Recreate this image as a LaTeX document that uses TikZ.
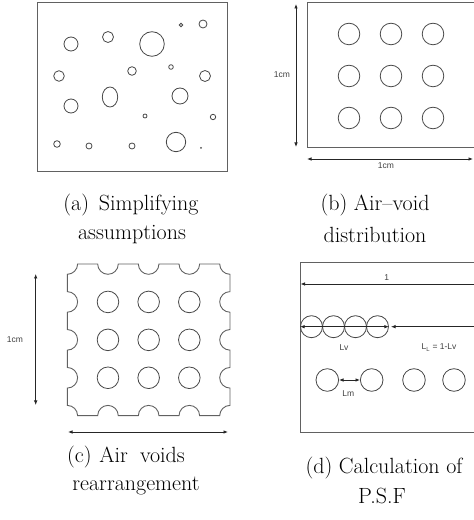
\documentclass[tikz,border=0pt]{standalone}
\usepackage{fontspec}
\newfontfamily\lblfont{Liberation Sans}
\usetikzlibrary{arrows.meta,shapes.geometric}
\begin{document}
\begin{tikzpicture}[x=1pt,y=1pt,
  frame/.style={draw=black!62, line width=1pt},
  void/.style={circle, draw=black!72, line width=0.8pt, inner sep=0pt, minimum size=#1},
  dimtip/.tip={Latex[length=4.5pt,width=3.6pt]},
  dim/.style={draw=black!85, line width=0.8pt, -dimtip},
  dimb/.style={draw=black!85, line width=0.8pt, dimtip-dimtip},
  captxt/.style={font=\fontsize{22}{26}\selectfont, inner sep=0pt, text=black},
  lbl/.style={font=\lblfont\fontsize{8.5}{10}\selectfont, text=black!75, inner sep=0pt}]
\useasboundingbox (0,0) rectangle (474,520);

% ---------------- (a) ----------------
\draw[frame] (37,517) rectangle (227,348);
\node[void=3.4pt]  (a1)  at (181,495) {};
\node[void=8pt]    (a2)  at (203,496) {};
\node[void=14pt]   (a3)  at (71,476) {};
\node[void=11pt]   (a4)  at (108,483) {};
\node[void=24.6pt] (a5)  at (152,476) {};
\node[void=10.6pt] (a6)  at (59,444) {};
\node[void=8.6pt]  (a7)  at (132,449) {};
\node[void=4.6pt]  (a8)  at (171,453) {};
\node[void=11pt]   (a9)  at (205,444) {};
\node[void=14pt]   (a10) at (71,414) {};
\node[ellipse, draw=black!72, line width=0.8pt, inner sep=0pt, minimum width=15.4pt, minimum height=20pt] (a11) at (110,423) {};
\node[void=16pt]   (a12) at (180,424) {};
\node[void=4pt]    (a13) at (145,404) {};
\node[void=5.4pt]  (a14) at (213,403) {};
\node[void=6.6pt]  (a15) at (57,376) {};
\node[void=6pt]    (a16) at (89,374) {};
\node[void=6pt]    (a17) at (132,374) {};
\node[void=19.4pt] (a18) at (176,378) {};
\node[circle, fill=black!70, inner sep=0pt, minimum size=2pt] (a19) at (201,372) {};
\node[captxt] (capa1) at (131,315) {(a)\hspace{0.45em}Simplifying};
\node[captxt] (capa2) at (132,285) {assumptions};

% ---------------- (b) ----------------
\draw[frame] (474,517) -- (307,517) -- (307,372) -- (474,372);
\foreach \i/\x in {1/349,2/391,3/433}{
  \foreach \j/\y in {1/486,2/444,3/402}{
    \node[void=21.6pt] (b\j\i) at (\x,\y) {};
  }
}
\coordinate (bv1) at (296,516);
\coordinate (bv2) at (296,373);
\draw[dimb] (bv1) -- (bv2);
\node[lbl] (bl1) at (282,445) {1cm};
\coordinate (bh1) at (307,361);
\coordinate (bh2) at (473,361);
\draw[dimb] (bh1) -- (bh2);
\node[lbl] (bl2) at (386,354) {1cm};
\node[captxt] (capb1) at (375,315) {(b)\hspace{0.3em}Air--void};
\node[captxt] (capb2) at (375,285) {distribution};

% ---------------- (c) ----------------
\pgfmathsetmacro{\pcL}{67.3}
\pgfmathsetmacro{\pcR}{230}
\pgfmathsetmacro{\pcT}{256}
\pgfmathsetmacro{\pcB}{104.3}
\pgfmathsetmacro{\pcdx}{(\pcR-\pcL)/4}
\pgfmathsetmacro{\pcdy}{(\pcT-\pcB)/4}
\pgfmathsetmacro{\pcr}{10.3}
\draw[frame, line width=0.9pt]
  ({\pcL+\pcr},\pcT)
  -- ({\pcL+\pcdx-\pcr},\pcT) arc[start angle=180,end angle=360,radius=\pcr]
  -- ({\pcL+2*\pcdx-\pcr},\pcT) arc[start angle=180,end angle=360,radius=\pcr]
  -- ({\pcL+3*\pcdx-\pcr},\pcT) arc[start angle=180,end angle=360,radius=\pcr]
  -- ({\pcR-\pcr},\pcT) arc[start angle=180,end angle=270,radius=\pcr]
  -- (\pcR,{\pcT-\pcdy+\pcr}) arc[start angle=90,end angle=270,radius=\pcr]
  -- (\pcR,{\pcT-2*\pcdy+\pcr}) arc[start angle=90,end angle=270,radius=\pcr]
  -- (\pcR,{\pcT-3*\pcdy+\pcr}) arc[start angle=90,end angle=270,radius=\pcr]
  -- (\pcR,{\pcB+\pcr}) arc[start angle=90,end angle=180,radius=\pcr]
  -- ({\pcL+3*\pcdx+\pcr},\pcB) arc[start angle=0,end angle=180,radius=\pcr]
  -- ({\pcL+2*\pcdx+\pcr},\pcB) arc[start angle=0,end angle=180,radius=\pcr]
  -- ({\pcL+\pcdx+\pcr},\pcB) arc[start angle=0,end angle=180,radius=\pcr]
  -- ({\pcL+\pcr},\pcB) arc[start angle=0,end angle=90,radius=\pcr]
  -- (\pcL,{\pcB+\pcdy-\pcr}) arc[start angle=-90,end angle=90,radius=\pcr]
  -- (\pcL,{\pcB+2*\pcdy-\pcr}) arc[start angle=-90,end angle=90,radius=\pcr]
  -- (\pcL,{\pcB+3*\pcdy-\pcr}) arc[start angle=-90,end angle=90,radius=\pcr]
  -- (\pcL,{\pcT-\pcr}) arc[start angle=270,end angle=360,radius=\pcr]
  -- cycle;
\foreach \i in {1,2,3}{
  \foreach \j in {1,2,3}{
    \node[void=21.6pt] (c\j\i) at ({\pcL+\i*\pcdx},{\pcT-\j*\pcdy}) {};
  }
}
\coordinate (cv1) at (35.7,246);
\coordinate (cv2) at (35.7,115);
\draw[dimb] (cv1) -- (cv2);
\node[lbl] (cl1) at (15,180) {1cm};
\coordinate (ch1) at (68,88);
\coordinate (ch2) at (228,88);
\draw[dimb] (ch1) -- (ch2);
\node[captxt] (capc1) at (126,63) {(c)\hspace{0.35em}Air\hspace{0.55em}voids};
\node[captxt] (capc2) at (136,34) {rearrangement};

% ---------------- (d) ----------------
\draw[frame] (474,257.3) -- (300,257.3) -- (300,87) -- (474,87);
\coordinate (d1r) at (474,236);
\coordinate (d1l) at (300.5,236);
\draw[dim] (d1r) -- (d1l);
\node[lbl] (dl1) at (386.7,242) {1};
\foreach \k/\x in {1/311.5,2/333.5,3/355.5,4/377.5}{
  \node[void=22pt] (dv\k) at (\x,193.3) {};
}
\draw[dimb] (dv1.west) -- (dv4.east);
\coordinate (dLr) at (474,193.3);
\coordinate (dLl) at (391,193.3);
\draw[dim] (dLr) -- (dLl);
\node[lbl] (dlv) at (344,172.3) {Lv};
\node[lbl] (dll) at (439,172.3) {L\textsubscript{L} = 1-Lv};
\foreach \k/\x in {1/327.3,2/371.7,3/414,4/454}{
  \node[void=22.6pt] (dm\k) at (\x,140) {};
}
\draw[dimb] (dm1.east) -- (dm2.west);
\node[lbl] (dlm) at (348.3,126) {Lm};
\node[captxt] (capd1) at (384,52) {(d)\hspace{0.3em}Calculation\hspace{0.3em}of};
\node[captxt] (capd2) at (382,24) {P.S.F};
\end{tikzpicture}
\end{document}
